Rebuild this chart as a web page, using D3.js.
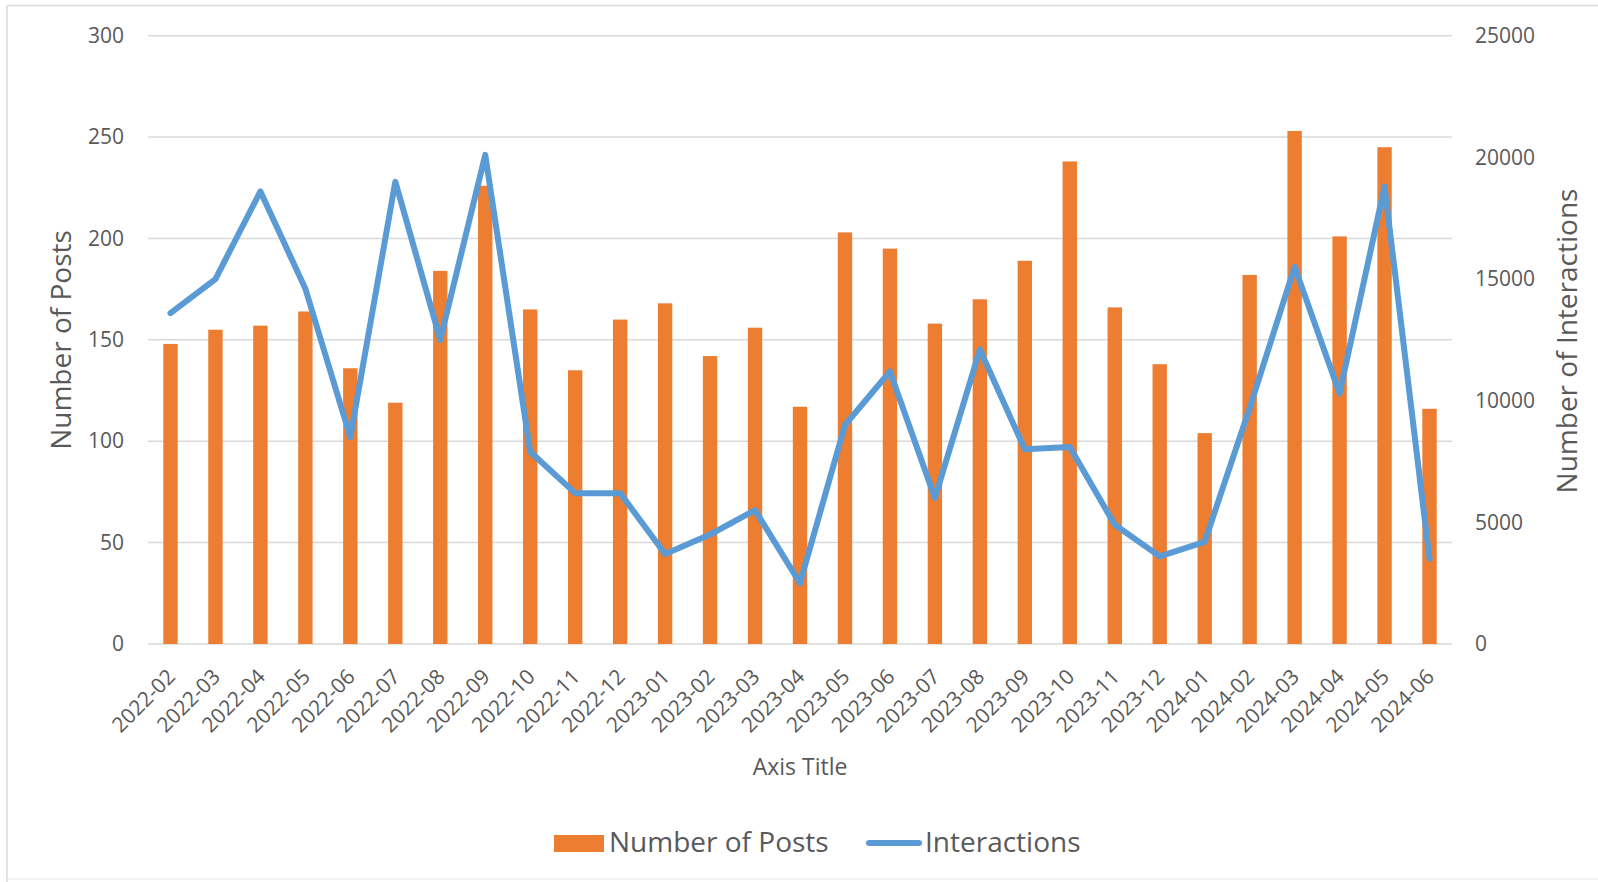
<!DOCTYPE html>
<html>
<head>
<meta charset="utf-8">
<script src="https://cdn.jsdelivr.net/npm/d3@7"></script>
<style>
  html, body { margin: 0; padding: 0; background: #fff; }
  svg { display: block; font-family: "Open Sans", sans-serif; }
</style>
</head>
<body>
<svg id="chart" width="1598" height="882"></svg>
<script>
const months = ["2022-02","2022-03","2022-04","2022-05","2022-06","2022-07","2022-08","2022-09","2022-10","2022-11","2022-12",
  "2023-01","2023-02","2023-03","2023-04","2023-05","2023-06","2023-07","2023-08","2023-09","2023-10","2023-11","2023-12",
  "2024-01","2024-02","2024-03","2024-04","2024-05","2024-06"];
const posts = [148,155,157,164,136,119,184,226,165,135,160,168,142,156,117,203,195,158,170,189,238,166,138,104,182,253,201,245,116];
const interactions = [13600,15000,18600,14600,8500,19000,12500,20100,7900,6200,6200,3700,4500,5500,2500,9000,11200,6000,12100,8000,8100,4900,3600,4200,9700,15500,10300,18800,3500];
const leftTicks = [0,50,100,150,200,250,300];
const rightTicks = [0,5000,10000,15000,20000,25000];
const seriesNames = ["Number of Posts","Interactions"];
const titles = {left: "Number of Posts", right: "Number of Interactions", x: "Axis Title"};

const svg = d3.select("#chart");
const textColor = "#595959";
const gridColor = "#D9D9D9";
const barColor = "#ED7D31";
const lineColor = "#5B9BD5";

const plot = {left: 148, right: 1452, top: 35.7, bottom: 644};

// chart border
svg.append("line").attr("x1", 7).attr("x2", 1598).attr("y1", 5.5).attr("y2", 5.5).attr("stroke", "#D9D9D9").attr("stroke-width", 1.5);
svg.append("line").attr("x1", 7).attr("x2", 7).attr("y1", 5.5).attr("y2", 882).attr("stroke", "#D9D9D9").attr("stroke-width", 1.5);
svg.append("line").attr("x1", 7).attr("x2", 1598).attr("y1", 879).attr("y2", 879).attr("stroke", "#EDEDED").attr("stroke-width", 1);

const x = d3.scaleBand().domain(months).range([plot.left, plot.right]).paddingInner(0.68).paddingOuter(0.34);
const yL = d3.scaleLinear().domain([0, 300]).range([plot.bottom, plot.top]);
const yR = d3.scaleLinear().domain([0, 25000]).range([plot.bottom, plot.top]);

// gridlines
svg.append("g").selectAll("line").data(leftTicks).join("line")
  .attr("x1", plot.left).attr("x2", plot.right)
  .attr("y1", d => yL(d)).attr("y2", d => yL(d))
  .attr("stroke", gridColor).attr("stroke-width", 1.5);

// left axis
const leftAxis = d3.axisLeft(yL).tickValues(leftTicks).tickSize(0).tickPadding(24);
const gl = svg.append("g").attr("transform", `translate(${plot.left},0)`).call(leftAxis);
gl.select(".domain").remove();
gl.selectAll("text").attr("fill", textColor).style("font-size", "21px").style("font-family", "'Open Sans', sans-serif");

// right axis
const rightAxis = d3.axisRight(yR).tickValues(rightTicks).tickSize(0).tickPadding(23).tickFormat(d3.format("d"));
const gr = svg.append("g").attr("transform", `translate(${plot.right},0)`).call(rightAxis);
gr.select(".domain").remove();
gr.selectAll("text").attr("fill", textColor).style("font-size", "21px").style("font-family", "'Open Sans', sans-serif");

// bars
svg.append("g").selectAll("rect").data(months).join("rect")
  .attr("x", d => x(d)).attr("width", x.bandwidth())
  .attr("y", (d, i) => yL(posts[i])).attr("height", (d, i) => yL(0) - yL(posts[i]))
  .attr("fill", barColor);

// line
const line = d3.line().x((d, i) => x(months[i]) + x.bandwidth() / 2).y(d => yR(d));
svg.append("path").datum(interactions).attr("d", line)
  .attr("fill", "none").attr("stroke", lineColor).attr("stroke-width", 6)
  .attr("stroke-linejoin", "round").attr("stroke-linecap", "round");

// x axis labels
const xAxis = d3.axisBottom(x).tickSize(0).tickPadding(0);
const gx = svg.append("g").attr("transform", `translate(0,${plot.bottom})`).call(xAxis);
gx.select(".domain").remove();
gx.selectAll(".tick text")
  .attr("fill", textColor).style("font-size", "21px").style("font-family", "'Open Sans', sans-serif")
  .attr("text-anchor", "end")
  .attr("dy", null).attr("y", null)
  .attr("transform", "translate(6,34) rotate(-45)");

// axis titles
svg.append("text").attr("transform", "translate(71,340) rotate(-90)")
  .attr("text-anchor", "middle").attr("fill", textColor).style("font-size", "28px").text(titles.left);
svg.append("text").attr("transform", "translate(1577,341) rotate(-90)")
  .attr("text-anchor", "middle").attr("fill", textColor).style("font-size", "28px").text(titles.right);
svg.append("text").attr("x", 800).attr("y", 775)
  .attr("text-anchor", "middle").attr("fill", textColor).style("font-size", "23px").text(titles.x);

// legend
const lg = svg.append("g");
lg.append("rect").attr("x", 554).attr("y", 835).attr("width", 50).attr("height", 17).attr("fill", barColor);
lg.append("text").attr("x", 609).attr("y", 852).attr("fill", textColor).style("font-size", "28px").text(seriesNames[0]);
lg.append("line").attr("x1", 869).attr("x2", 919).attr("y1", 843).attr("y2", 843)
  .attr("stroke", lineColor).attr("stroke-width", 6).attr("stroke-linecap", "round");
lg.append("text").attr("x", 925).attr("y", 852).attr("fill", textColor).style("font-size", "28px").text(seriesNames[1]);
</script>
</body>
</html>
